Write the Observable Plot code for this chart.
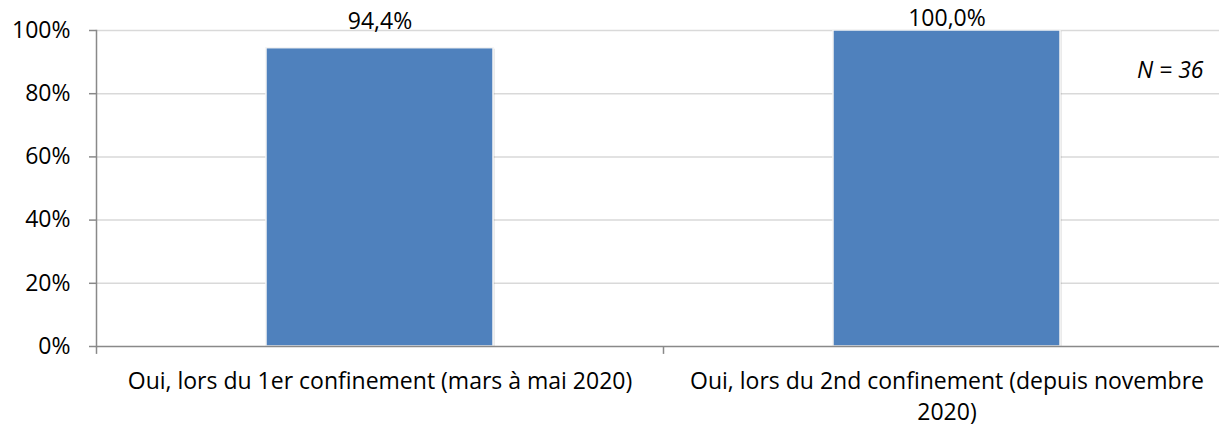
<!DOCTYPE html>
<html>
<head>
<meta charset="utf-8">
<script src="https://cdn.jsdelivr.net/npm/d3@7"></script>
<script src="https://cdn.jsdelivr.net/npm/@observablehq/plot@0.6"></script>
<style>
  html, body { margin: 0; padding: 0; background: #fff; }
  #chart { width: 1219px; height: 426px; overflow: hidden; }
</style>
</head>
<body>
<div id="chart"></div>
<script>
// Data
const categories = [
  "Oui, lors du 1er confinement (mars à mai 2020)",
  "Oui, lors du 2nd confinement (depuis novembre 2020)"
];
const tickLabels = [
  "Oui, lors du 1er confinement (mars à mai 2020)",
  "Oui, lors du 2nd confinement (depuis novembre\n2020)"
];
const values = [94.4, 100.0];
const yTicks = [0, 20, 40, 60, 80, 100];
const note = "N = 36";

const data = categories.map((c, i) => ({category: c, value: values[i]}));
const labelOf = new Map(categories.map((c, i) => [c, tickLabels[i]]));

const FONT = "'Open Sans', sans-serif";
const FS = 23;
const left = 96, bandRight = 1230;
const step = (bandRight - left) / categories.length;

const chart = Plot.plot({
  width: 1219,
  height: 426,
  marginTop: 30,
  marginBottom: 80,
  marginLeft: left,
  marginRight: 0,
  style: {fontFamily: FONT, fontSize: FS + "px", color: "#000", background: "#fff"},
  x: {domain: categories, range: [left, bandRight], paddingInner: 0.6, paddingOuter: 0.3},
  y: {domain: [0, 100]},
  marks: [
    Plot.ruleY(yTicks.filter(d => d > 0), {stroke: "#d9d9d9", strokeWidth: 1.5}),
    Plot.barY(data, {x: "category", y: "value", fill: "#000", fillOpacity: 0.08, dx: 2, dy: 1}),
    Plot.barY(data, {x: "category", y: "value", fill: "#4F81BD", stroke: "#f4f4f4", strokeWidth: 1.5}),
    Plot.ruleY([0], {stroke: "#898989", strokeWidth: 1.5}),
    Plot.frame({anchor: "left", stroke: "#898989", strokeWidth: 1.5}),
    Plot.ruleX(categories, {x: d => d, y1: 0, y2: -2.5, dx: -step / 2, stroke: "#898989", strokeWidth: 1.5}),
    Plot.axisY({
      ticks: yTicks, tickFormat: d => d + "%", tickSize: 7, tickPadding: 19,
      stroke: "#898989", strokeWidth: 1.5, fontSize: FS, fill: "#000", label: null
    }),
    Plot.axisX({
      tickSize: 0, tickPadding: 20, tickFormat: d => labelOf.get(d),
      fontSize: FS, fill: "#000", lineHeight: 1.36, label: null
    }),
    Plot.text(data, {
      x: "category", y: d => Math.min(d.value, 95.25), dy: -27,
      text: d => d.value.toFixed(1).replace(".", ",") + "%",
      fontSize: FS, fill: "#000"
    }),
    Plot.text([note], {
      frameAnchor: "top-right", textAnchor: "end", dx: -16, dy: 31.5,
      fontStyle: "italic", fontSize: FS, fill: "#000"
    })
  ]
});
document.getElementById("chart").appendChild(chart);
</script>
</body>
</html>
